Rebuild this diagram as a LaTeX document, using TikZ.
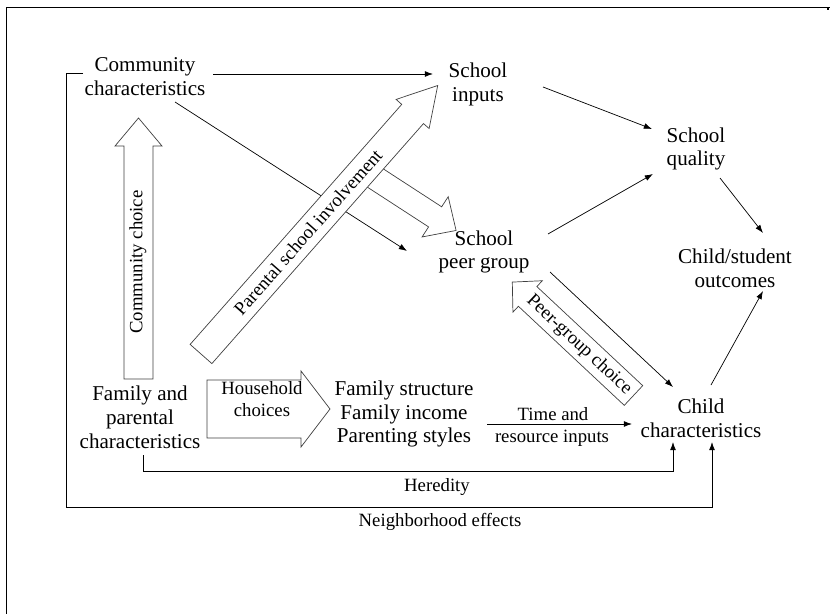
\documentclass[tikz,border=0pt]{standalone}
\usepackage{fontspec}
\setmainfont{Liberation Serif}
\usetikzlibrary{arrows.meta,calc}

% outlined block arrow: tail, angle, length, shaft width, head width, head length
\newcommand{\bigarrow}[6]{%
  \draw[blockarrow, shift={#1}, rotate=#2]
    (0,{-#4/2}) -- ({#3-#6},{-#4/2}) -- ({#3-#6},{-#5/2}) -- (#3,0)
    -- ({#3-#6},{#5/2}) -- ({#3-#6},{#4/2}) -- (0,{#4/2}) -- cycle;}

\tikzset{
  box/.style={font=\fontsize{18}{20.4}\selectfont, align=center, inner sep=4pt},
  lbl/.style={font=\fontsize{16}{18.7}\selectfont, align=center, inner sep=1pt},
  conn/.style={->, line width=0.6pt},
  blockarrow/.style={draw=black!75, fill=white, line width=0.6pt}
}

\begin{document}
\begin{tikzpicture}[x=0.03cm, y=-0.03cm]
  \tikzset{>={Latex[length=7pt,width=5pt]}}
  \useasboundingbox (0,0) rectangle (830,614);

  % frame
  \draw[line width=1.4pt] (6.5,614) -- (6.5,7.5) -- (830,7.5);
  \draw[line width=1.4pt] (828,7.5) -- (828,10);

  % factors
  \node[box] (comm)     at (145,77)  {Community\\characteristics};
  \node[box] (inputs)   at (478,84)  {School\\inputs};
  \node[box] (quality)  at (696,149) {School\\quality};
  \node[box] (peer)     at (484,252) {School\\peer group};
  \node[box] (outcomes) at (735,268) {Child/student\\outcomes};
  \node[box] (child)    at (701,418) {Child\\characteristics};
  \node[box] (family)   at (140,417) {Family and\\parental\\characteristics};
  \node[box] (fam)      at (404,414) {Family structure\\Family income\\Parenting styles};

  % connectors
  \draw[conn] ($(comm)+(68,-3)$) -- ($(inputs)+(-45,-10)$);
  \draw[conn] ($(comm)+(30,25)$) -- ($(peer)+(-77,-1)$);
  \draw[conn] ($(inputs)+(65,3)$) -- ($(quality)+(-44,-20)$);
  \draw[conn] ($(peer)+(64,-18)$) -- ($(quality)+(-43,25)$);
  \draw[conn] ($(quality)+(24,29)$) -- ($(outcomes)+(28,-35)$);
  \draw[conn] ($(child)+(10,-33)$) -- ($(outcomes)+(28,23)$);
  \draw[conn] ($(peer)+(66,20)$) -- ($(child)+(-28,-31)$);
  \draw[conn] ($(fam)+(83,10)$) -- ($(child)+(-69,6)$);
  \draw[conn] ($(family)+(3,38)$) |- ($(child)+(-28,53)$) -- ($(child)+(-28,24)$);
  \draw[conn] ($(comm)+(-62,-4)$) -- ++(-17,0) |- ($(child)+(11,89)$) -- ($(child)+(11,24)$);

  % block arrows
  \bigarrow{(138.5,379)}{90}{261}{29}{47}{28}
  \bigarrow{(363,170)}{-33}{111}{24}{48}{25}
  \bigarrow{(201,354)}{48.6}{358}{29}{44}{38}
  \bigarrow{(633.5,395.5)}{136.9}{166}{27}{43}{21}
  \bigarrow{(207,409)}{0}{123}{58}{76}{29}

  % labels
  \node[lbl, rotate=90]   (cclbl)  at (138,262) {Community choice};
  \node[lbl, rotate=48.6] (pslbl)  at (308,232) {Parental school involvement};
  \node[lbl, rotate=-43]  (pglbl)  at (579,345) {Peer-group choice};
  \node[lbl]              (hclbl)  at (262,399) {Household\\choices};
  \node[lbl]              (tlbl)   at (553,414) {Time and};
  \node[lbl]              (rlbl)   at (552,438) {resource inputs};
  \node[lbl]              (herlbl) at (437,487) {Heredity};
  \node[lbl]              (nbhlbl) at (440,522) {Neighborhood effects};
\end{tikzpicture}
\end{document}
